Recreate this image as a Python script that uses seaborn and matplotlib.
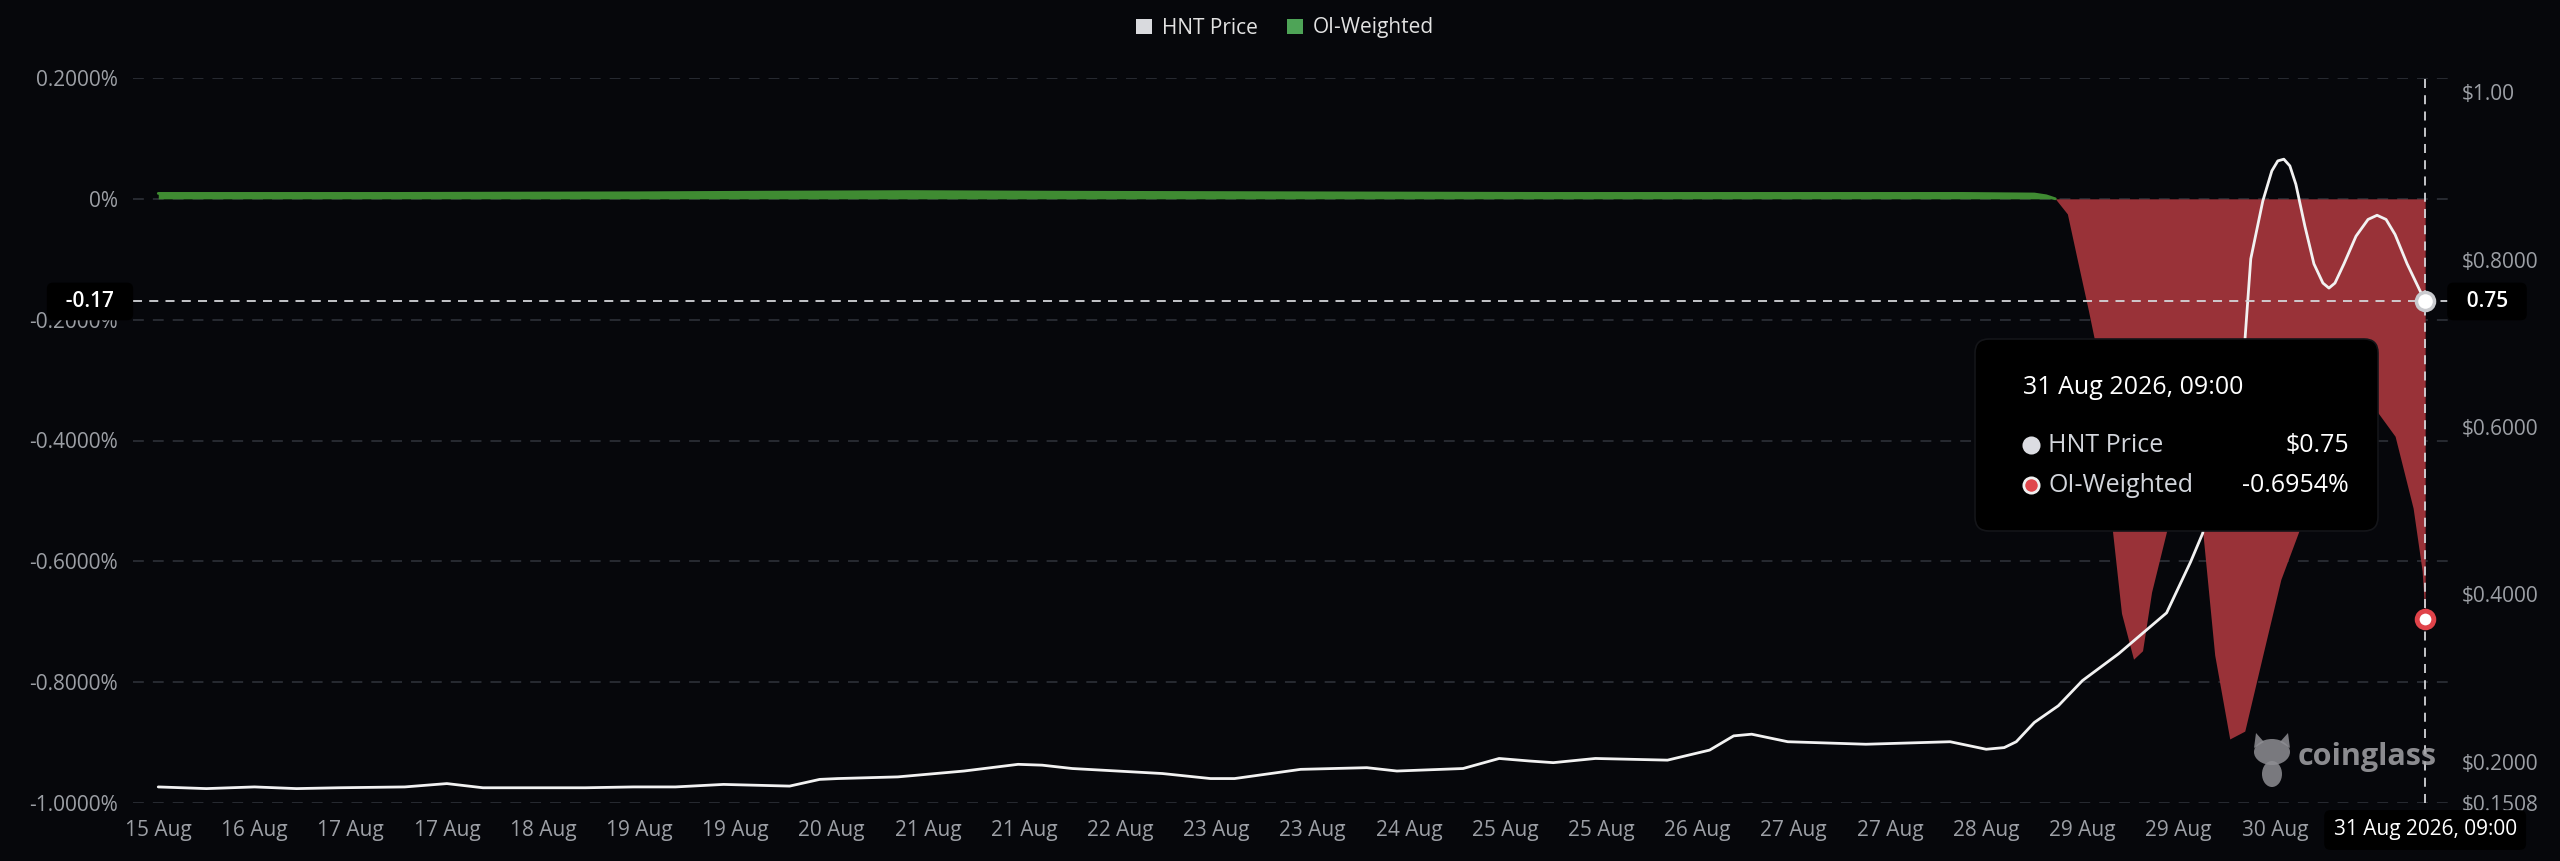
import pandas as pd
import numpy as np
import seaborn as sns
import matplotlib.pyplot as plt
import matplotlib.dates as mdates
import matplotlib.transforms as mtransforms
from matplotlib.patches import FancyBboxPatch, Patch, Ellipse, Polygon
from matplotlib.lines import Line2D

# hours after 15 Aug 2026 16:00
start = pd.Timestamp('2026-08-15 16:00')

price_hours = [0, 8, 16, 23, 30, 41, 48, 54, 71, 79,
               86, 94, 105, 110, 113, 123, 134, 143, 147, 152,
               167, 175, 179, 190, 201, 206, 217, 223, 228, 232,
               239, 251, 258, 262, 265, 271, 284, 298, 304, 307,
               309, 312, 316, 320, 326, 334, 338, 340, 343, 347,
               348, 350, 351.5, 352.5, 353.5, 354.5, 355.5, 357, 358.5, 360,
               361, 362, 363.5, 365.5, 367.5, 369, 370.5, 372, 374, 377]
price_usd = [0.170, 0.168, 0.170, 0.168, 0.169, 0.170, 0.174, 0.169, 0.169, 0.170,
             0.170, 0.173, 0.171, 0.179, 0.180, 0.182, 0.189, 0.197, 0.196, 0.192,
             0.186, 0.180, 0.180, 0.191, 0.193, 0.189, 0.192, 0.204, 0.201, 0.199,
             0.204, 0.202, 0.214, 0.231, 0.233, 0.224, 0.221, 0.224, 0.215, 0.217,
             0.224, 0.247, 0.267, 0.297, 0.329, 0.378, 0.439, 0.473, 0.590, 0.701,
             0.801, 0.870, 0.906, 0.918, 0.920, 0.912, 0.890, 0.840, 0.795, 0.772,
             0.766, 0.772, 0.795, 0.828, 0.848, 0.853, 0.848, 0.830, 0.795, 0.750]

oi_hours = [0, 40, 80, 100, 125, 150, 190, 230, 270, 300,
            312, 314, 315.5, 317.5, 319, 321, 322, 325, 326.5, 328.5,
            330, 331.5, 334, 337, 340, 342, 344.5, 347, 350, 353,
            356, 360, 364, 367.5, 369, 372, 375, 376.5, 377]
oi_pct = [0.009, 0.009, 0.010, 0.011, 0.012, 0.011, 0.010, 0.009, 0.009, 0.009,
          0.008, 0.005, 0.0, -0.025, -0.094, -0.185, -0.233, -0.55, -0.686, -0.762,
          -0.748, -0.651, -0.55, -0.42, -0.55, -0.755, -0.894, -0.881, -0.755, -0.63,
          -0.55, -0.42, -0.33, -0.32, -0.352, -0.393, -0.512, -0.616, -0.6954]

left_ticks = [0.2, 0.0, -0.2, -0.4, -0.6, -0.8, -1.0]
left_labels = ['0.2000%', '0%', '-0.2000%', '-0.4000%', '-0.6000%', '-0.8000%', '-1.0000%']
right_ticks = [1.0, 0.8, 0.6, 0.4, 0.2, 0.1508]
right_labels = ['$1.00', '$0.8000', '$0.6000', '$0.4000', '$0.2000', '$0.1508']

df_price = pd.DataFrame({'time': start + pd.to_timedelta(price_hours, unit='h'), 'price': price_usd})
df_oi = pd.DataFrame({'time': start + pd.to_timedelta(oi_hours, unit='h'), 'oi': oi_pct})
t_end = df_price.time.iloc[-1]

bg = '#06070b'
grid_c = '#2a2d34'
tick_c = '#9c9fa5'
green = '#3f8b32'
red = '#993238'

sns.set_theme(style='dark', rc={'axes.facecolor': bg, 'figure.facecolor': bg,
                                'axes.edgecolor': bg, 'text.color': 'white'})
plt.rcParams['font.family'] = ['Open Sans', 'DejaVu Sans']

W, H = 2560, 861
fig = plt.figure(figsize=(W / 100, H / 100), dpi=100)
ax = fig.add_axes([133 / W, 58 / H, (2448 - 133) / W, (803 - 78) / H])
ax2 = ax.twinx()
ax2.patch.set_visible(False)

# OI-weighted funding (left axis)
sns.lineplot(data=df_oi[df_oi.oi >= 0], x='time', y='oi', ax=ax, color=green, linewidth=2, legend=False)
ax.fill_between(df_oi.time, df_oi.oi, 0, where=df_oi.oi >= 0, interpolate=True, color=green, lw=0)
ax.fill_between(df_oi.time, df_oi.oi, 0, where=df_oi.oi <= 0, interpolate=True, color=red, lw=0)

# HNT price (right axis)
sns.lineplot(data=df_price, x='time', y='price', ax=ax2, color='#f2f2f2', linewidth=2, legend=False)

ax.set_xlim(mdates.date2num(start - pd.Timedelta(hours=4.2)), mdates.date2num(start + pd.Timedelta(hours=380.8)))
ax.set_ylim(-1.0, 0.2)
ax2.set_ylim(0.1508, 1.017)

ax.set_yticks(left_ticks)
ax.set_yticklabels(left_labels)
ax2.set_yticks(right_ticks)
ax2.set_yticklabels(right_labels)
ax.set_xticks([mdates.date2num(start + pd.Timedelta(hours=16 * k)) for k in range(23)])
ax.xaxis.set_major_formatter(mdates.DateFormatter('%d %b'))

for a in (ax, ax2):
    a.set_xlabel('')
    a.set_ylabel('')
    for s in a.spines.values():
        s.set_visible(False)
    a.grid(False)
ax.yaxis.grid(True, color=grid_c, linestyle=(0, (6, 5)), linewidth=1.3)
ax.tick_params(axis='y', length=0, pad=11, labelsize=15, colors=tick_c)
ax.tick_params(axis='x', length=0, pad=12, labelsize=15, colors=tick_c)
ax2.tick_params(axis='y', length=0, pad=10, labelsize=15, colors=tick_c)

# crosshair at the last point
cross_c = '#d4d5d9'
ax2.axhline(price_usd[-1], color=cross_c, linestyle=(0, (5, 4)), linewidth=1.3, zorder=5)
ax.axvline(mdates.date2num(t_end), color=cross_c, linestyle=(0, (5, 4)), linewidth=1.3)
ax2.plot(t_end, price_usd[-1], 'o', ms=13, mfc='white', mec='#c9cace', mew=2.5, zorder=6, clip_on=False)
ax.plot(t_end, oi_pct[-1], 'o', ms=12, mfc='white', mec='#e0434a', mew=3.5, zorder=6, clip_on=False)

# value on the left scale at the crosshair height
left_val = ax.transData.inverted().transform(ax2.transData.transform((0, price_usd[-1])))[1]
box = dict(boxstyle='round,pad=0.4,rounding_size=0.3', fc='black', ec='none')
trans_l = mtransforms.blended_transform_factory(fig.transFigure, ax2.transData)
fig.text(90 / W, price_usd[-1], f'  {left_val:.2f}  ', transform=trans_l, ha='center', va='center',
         fontsize=15, color='white', fontweight='semibold', bbox=box)
fig.text(2487 / W, price_usd[-1], f'  {price_usd[-1]:.2f}  ', transform=trans_l, ha='center', va='center',
         fontsize=15, color='white', fontweight='semibold', bbox=box)
trans_b = mtransforms.blended_transform_factory(ax.transData, fig.transFigure)
fig.text(mdates.date2num(t_end), 1 - 830 / H, t_end.strftime('%d %b %Y, %H:%M'), transform=trans_b,
         ha='center', va='center', fontsize=15, color='white',
         bbox=dict(boxstyle='round,pad=0.45,rounding_size=0.3', fc='black', ec='none'))

# tooltip
x0, x1, y0, y1 = 1975, 2378, 339, 531
tip = FancyBboxPatch((x0 / W, 1 - y1 / H), (x1 - x0) / W, (y1 - y0) / H,
                     boxstyle='round,pad=0,rounding_size=%f' % (14 / W), mutation_aspect=W / H,
                     transform=fig.transFigure, fc='black', ec='#141519', lw=1.2, zorder=10)
fig.add_artist(tip)
fig.text(2023 / W, 1 - 387 / H, t_end.strftime('%d %b %Y, %H:%M'), fontsize=18, color='white',
         va='center', ha='left', zorder=11)
rows = [('HNT Price', f'${price_usd[-1]:.2f}', '#dcdde2', '#dcdde2', 445),
        ('OI-Weighted', f'{oi_pct[-1]:.4f}%', '#e0474c', '#f0f0f0', 485)]
for name, val, fc, ec, yy in rows:
    fig.add_artist(Line2D([2031 / W], [1 - yy / H], marker='o', ms=11, mfc=fc, mec=ec, mew=2,
                          transform=fig.transFigure, zorder=11))
    fig.text(2048 / W, 1 - yy / H, name, fontsize=18, color='#d3d6dc', va='center', ha='left', zorder=11)
    fig.text(2349 / W, 1 - yy / H, val, fontsize=18, color='white', va='center', ha='right', zorder=11)

# watermark: rough bull head + name
wm_c = '#8e8e93'
fig.add_artist(Ellipse((2272 / W, 1 - 752 / H), 36 / W, 26 / H, transform=fig.transFigure, fc=wm_c, ec='none', alpha=0.85))
fig.add_artist(Ellipse((2272 / W, 1 - 774 / H), 20 / W, 26 / H, transform=fig.transFigure, fc=wm_c, ec='none', alpha=0.85))
fig.add_artist(Polygon([(2254 / W, 1 - 748 / H), (2256 / W, 1 - 733 / H), (2264 / W, 1 - 742 / H)],
                       transform=fig.transFigure, fc=wm_c, ec='none', alpha=0.85))
fig.add_artist(Polygon([(2290 / W, 1 - 748 / H), (2288 / W, 1 - 733 / H), (2280 / W, 1 - 742 / H)],
                       transform=fig.transFigure, fc=wm_c, ec='none', alpha=0.85))
fig.text(2367 / W, 1 - 757 / H, 'coinglass', fontsize=22, fontweight='bold', color='#a3a3a7',
         alpha=0.85, ha='center', va='center')

# legend
handles = [Patch(fc='#d9dade', ec='none'), Patch(fc='#4ea457', ec='none')]
fig.legend(handles, ['HNT Price', 'OI-Weighted'], loc='center', bbox_to_anchor=(1285 / W, 1 - 28 / H),
           ncol=2, frameon=False, fontsize=15, handlelength=0.75, handleheight=0.75,
           handletextpad=0.5, columnspacing=1.4, labelcolor='#e2e2e2')

fig.savefig('out.png', dpi=100, facecolor=bg)
